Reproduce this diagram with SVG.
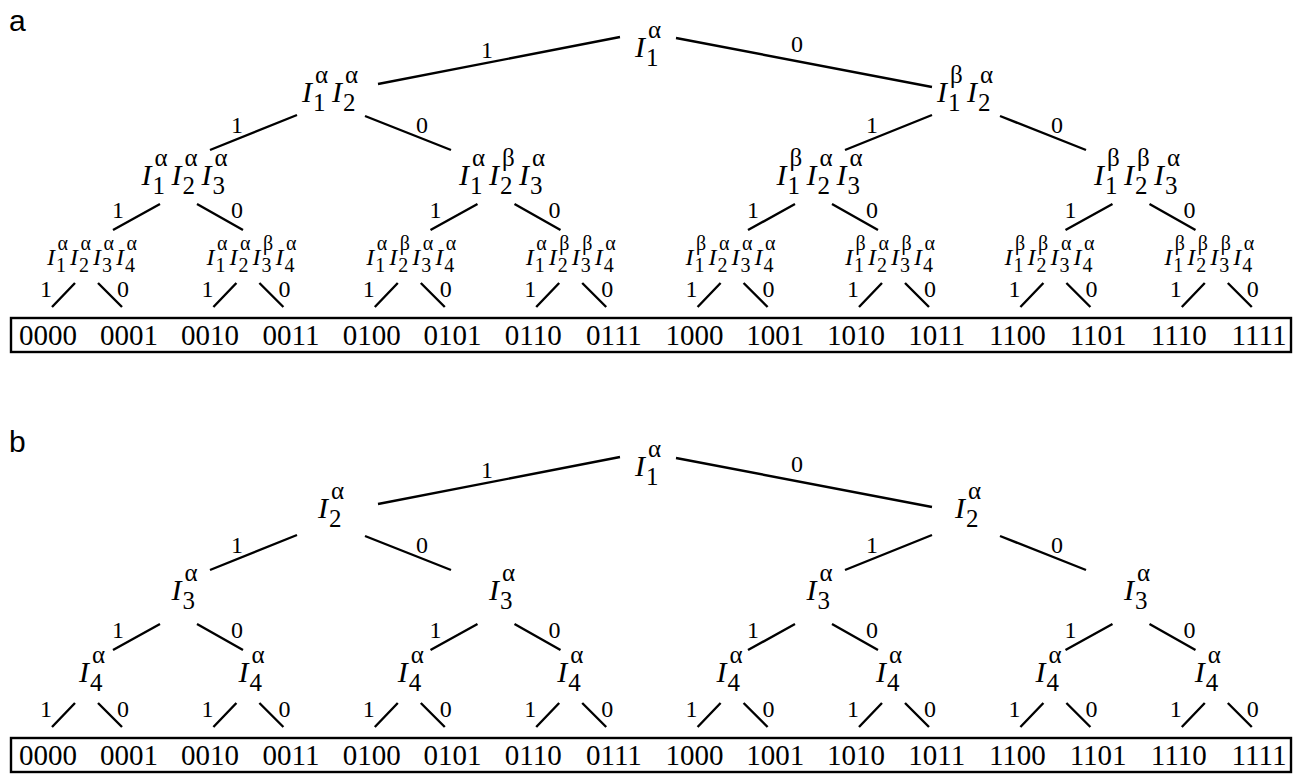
<svg xmlns="http://www.w3.org/2000/svg" width="1296" height="774" viewBox="0 0 1296 774">
<style>
  .bg{fill:#fff}
  text{font-family:"Liberation Serif","Times New Roman",serif;fill:#000}
  .I{font-style:italic;font-size:30px}
  .s{font-size:25px}
  .I4{font-style:italic;font-size:24px}
  .s4{font-size:20px}
  .lab{font-size:24px;text-anchor:middle}
  .leaf{font-size:29px;text-anchor:middle}
  .pan{font-family:"Liberation Sans",Arial,sans-serif;font-size:30px}
  .edge{stroke:#000;stroke-width:2.4;fill:none;stroke-linecap:butt}
  .box{stroke:#000;stroke-width:2.4;fill:none}
</style>
<rect class="bg" x="0" y="0" width="1296" height="774"/>

<!-- ===================== panel a ===================== -->
<text class="pan" x="9" y="31">a</text>

<g id="a-edges">
  <path class="edge" d="M378,84 L620,37 M676,38 L932,87"/>
  <path class="edge" d="M210,150 L297,115 M365,116 L451,150 M845,150 L932,115 M1000,116 L1086,150"/>
  <path class="edge" d="M113,230 L160,204 M197,204 L243,230 M430.5,230 L477.5,204 M514.5,204 L560.5,230 M748,230 L795,204 M832,204 L878,230 M1065.5,230 L1112.5,204 M1149.5,204 L1195.5,230"/>
  <path class="edge" d="M52,307 L75,283 M98,283 L122,307 M213.4,307 L236.4,283 M259.4,283 L283.4,307 M374.8,307 L397.8,283 M420.8,283 L444.8,307 M536.2,307 L559.2,283 M582.2,283 L606.2,307 M697.6,307 L720.6,283 M743.6,283 L767.6,307 M859,307 L882,283 M905,283 L929,307 M1020.4,307 L1043.4,283 M1066.4,283 L1090.4,307 M1181.8,307 L1204.8,283 M1227.8,283 L1251.8,307"/>
  <g id="a-edge-labels">
    <text class="lab" x="487" y="58">1</text><text class="lab" x="797" y="52">0</text>
    <text class="lab" x="237" y="133">1</text><text class="lab" x="422" y="133">0</text>
    <text class="lab" x="872" y="133">1</text><text class="lab" x="1057" y="133">0</text>
    <text class="lab" x="118" y="218">1</text><text class="lab" x="237" y="218">0</text>
    <text class="lab" x="435.5" y="218">1</text><text class="lab" x="554.5" y="218">0</text>
    <text class="lab" x="753" y="218">1</text><text class="lab" x="872" y="218">0</text>
    <text class="lab" x="1070.5" y="218">1</text><text class="lab" x="1189.5" y="218">0</text>
    <text class="lab" x="46" y="297">1</text><text class="lab" x="123" y="297">0</text>
    <text class="lab" x="207.4" y="297">1</text><text class="lab" x="284.4" y="297">0</text>
    <text class="lab" x="368.8" y="297">1</text><text class="lab" x="445.8" y="297">0</text>
    <text class="lab" x="530.2" y="297">1</text><text class="lab" x="607.2" y="297">0</text>
    <text class="lab" x="691.6" y="297">1</text><text class="lab" x="768.6" y="297">0</text>
    <text class="lab" x="853" y="297">1</text><text class="lab" x="930" y="297">0</text>
    <text class="lab" x="1014.4" y="297">1</text><text class="lab" x="1091.4" y="297">0</text>
    <text class="lab" x="1175.8" y="297">1</text><text class="lab" x="1252.8" y="297">0</text>
  </g>
</g>

<!-- level 0 -->
<g id="a-n0"><text><tspan class="I" x="635" y="57">I</tspan><tspan class="s" x="646" y="66">1</tspan><tspan class="s" x="648" y="38">α</tspan></text></g>
<!-- level 1 -->
<g id="a-n10"><text><tspan class="I" x="302" y="102">I</tspan><tspan class="s" x="313" y="111">1</tspan><tspan class="s" x="315" y="83">α</tspan><tspan class="I" x="332" y="102">I</tspan><tspan class="s" x="343" y="111">2</tspan><tspan class="s" x="345" y="83">α</tspan></text></g>
<g id="a-n11"><text><tspan class="I" x="937" y="102">I</tspan><tspan class="s" x="948" y="111">1</tspan><tspan class="s" x="950" y="83">β</tspan><tspan class="I" x="967" y="102">I</tspan><tspan class="s" x="978" y="111">2</tspan><tspan class="s" x="980" y="83">α</tspan></text></g>
<!-- level 2 -->
<g id="a-n20"><text><tspan class="I" x="141.5" y="185">I</tspan><tspan class="s" x="152.5" y="194">1</tspan><tspan class="s" x="154.5" y="166">α</tspan><tspan class="I" x="171.5" y="185">I</tspan><tspan class="s" x="182.5" y="194">2</tspan><tspan class="s" x="184.5" y="166">α</tspan><tspan class="I" x="201.5" y="185">I</tspan><tspan class="s" x="212.5" y="194">3</tspan><tspan class="s" x="214.5" y="166">α</tspan></text></g>
<g id="a-n21"><text><tspan class="I" x="459" y="185">I</tspan><tspan class="s" x="470" y="194">1</tspan><tspan class="s" x="472" y="166">α</tspan><tspan class="I" x="489" y="185">I</tspan><tspan class="s" x="500" y="194">2</tspan><tspan class="s" x="502" y="166">β</tspan><tspan class="I" x="519" y="185">I</tspan><tspan class="s" x="530" y="194">3</tspan><tspan class="s" x="532" y="166">α</tspan></text></g>
<g id="a-n22"><text><tspan class="I" x="776.5" y="185">I</tspan><tspan class="s" x="787.5" y="194">1</tspan><tspan class="s" x="789.5" y="166">β</tspan><tspan class="I" x="806.5" y="185">I</tspan><tspan class="s" x="817.5" y="194">2</tspan><tspan class="s" x="819.5" y="166">α</tspan><tspan class="I" x="836.5" y="185">I</tspan><tspan class="s" x="847.5" y="194">3</tspan><tspan class="s" x="849.5" y="166">α</tspan></text></g>
<g id="a-n23"><text><tspan class="I" x="1094" y="185">I</tspan><tspan class="s" x="1105" y="194">1</tspan><tspan class="s" x="1107" y="166">β</tspan><tspan class="I" x="1124" y="185">I</tspan><tspan class="s" x="1135" y="194">2</tspan><tspan class="s" x="1137" y="166">β</tspan><tspan class="I" x="1154" y="185">I</tspan><tspan class="s" x="1165" y="194">3</tspan><tspan class="s" x="1167" y="166">α</tspan></text></g>
<!-- level 3 -->
<g id="a-n30"><text><tspan class="I4" x="47" y="265">I</tspan><tspan class="s4" x="56" y="272">1</tspan><tspan class="s4" x="57.5" y="250">α</tspan><tspan class="I4" x="70" y="265">I</tspan><tspan class="s4" x="79" y="272">2</tspan><tspan class="s4" x="80.5" y="250">α</tspan><tspan class="I4" x="93" y="265">I</tspan><tspan class="s4" x="102" y="272">3</tspan><tspan class="s4" x="103.5" y="250">α</tspan><tspan class="I4" x="116" y="265">I</tspan><tspan class="s4" x="125" y="272">4</tspan><tspan class="s4" x="126.5" y="250">α</tspan></text></g>
<g id="a-n31"><text><tspan class="I4" x="206.6" y="265">I</tspan><tspan class="s4" x="215.6" y="272">1</tspan><tspan class="s4" x="217.1" y="250">α</tspan><tspan class="I4" x="229.6" y="265">I</tspan><tspan class="s4" x="238.6" y="272">2</tspan><tspan class="s4" x="240.1" y="250">α</tspan><tspan class="I4" x="252.6" y="265">I</tspan><tspan class="s4" x="261.6" y="272">3</tspan><tspan class="s4" x="263.1" y="250">β</tspan><tspan class="I4" x="275.6" y="265">I</tspan><tspan class="s4" x="284.6" y="272">4</tspan><tspan class="s4" x="286.1" y="250">α</tspan></text></g>
<g id="a-n32"><text><tspan class="I4" x="366.2" y="265">I</tspan><tspan class="s4" x="375.2" y="272">1</tspan><tspan class="s4" x="376.7" y="250">α</tspan><tspan class="I4" x="389.2" y="265">I</tspan><tspan class="s4" x="398.2" y="272">2</tspan><tspan class="s4" x="399.7" y="250">β</tspan><tspan class="I4" x="412.2" y="265">I</tspan><tspan class="s4" x="421.2" y="272">3</tspan><tspan class="s4" x="422.7" y="250">α</tspan><tspan class="I4" x="435.2" y="265">I</tspan><tspan class="s4" x="444.2" y="272">4</tspan><tspan class="s4" x="445.7" y="250">α</tspan></text></g>
<g id="a-n33"><text><tspan class="I4" x="525.8" y="265">I</tspan><tspan class="s4" x="534.8" y="272">1</tspan><tspan class="s4" x="536.3" y="250">α</tspan><tspan class="I4" x="548.8" y="265">I</tspan><tspan class="s4" x="557.8" y="272">2</tspan><tspan class="s4" x="559.3" y="250">β</tspan><tspan class="I4" x="571.8" y="265">I</tspan><tspan class="s4" x="580.8" y="272">3</tspan><tspan class="s4" x="582.3" y="250">β</tspan><tspan class="I4" x="594.8" y="265">I</tspan><tspan class="s4" x="603.8" y="272">4</tspan><tspan class="s4" x="605.3" y="250">α</tspan></text></g>
<g id="a-n34"><text><tspan class="I4" x="685.4" y="265">I</tspan><tspan class="s4" x="694.4" y="272">1</tspan><tspan class="s4" x="695.9" y="250">β</tspan><tspan class="I4" x="708.4" y="265">I</tspan><tspan class="s4" x="717.4" y="272">2</tspan><tspan class="s4" x="718.9" y="250">α</tspan><tspan class="I4" x="731.4" y="265">I</tspan><tspan class="s4" x="740.4" y="272">3</tspan><tspan class="s4" x="741.9" y="250">α</tspan><tspan class="I4" x="754.4" y="265">I</tspan><tspan class="s4" x="763.4" y="272">4</tspan><tspan class="s4" x="764.9" y="250">α</tspan></text></g>
<g id="a-n35"><text><tspan class="I4" x="845" y="265">I</tspan><tspan class="s4" x="854" y="272">1</tspan><tspan class="s4" x="855.5" y="250">β</tspan><tspan class="I4" x="868" y="265">I</tspan><tspan class="s4" x="877" y="272">2</tspan><tspan class="s4" x="878.5" y="250">α</tspan><tspan class="I4" x="891" y="265">I</tspan><tspan class="s4" x="900" y="272">3</tspan><tspan class="s4" x="901.5" y="250">β</tspan><tspan class="I4" x="914" y="265">I</tspan><tspan class="s4" x="923" y="272">4</tspan><tspan class="s4" x="924.5" y="250">α</tspan></text></g>
<g id="a-n36"><text><tspan class="I4" x="1004.6" y="265">I</tspan><tspan class="s4" x="1013.6" y="272">1</tspan><tspan class="s4" x="1015.1" y="250">β</tspan><tspan class="I4" x="1027.6" y="265">I</tspan><tspan class="s4" x="1036.6" y="272">2</tspan><tspan class="s4" x="1038.1" y="250">β</tspan><tspan class="I4" x="1050.6" y="265">I</tspan><tspan class="s4" x="1059.6" y="272">3</tspan><tspan class="s4" x="1061.1" y="250">α</tspan><tspan class="I4" x="1073.6" y="265">I</tspan><tspan class="s4" x="1082.6" y="272">4</tspan><tspan class="s4" x="1084.1" y="250">α</tspan></text></g>
<g id="a-n37"><text><tspan class="I4" x="1164.2" y="265">I</tspan><tspan class="s4" x="1173.2" y="272">1</tspan><tspan class="s4" x="1174.7" y="250">β</tspan><tspan class="I4" x="1187.2" y="265">I</tspan><tspan class="s4" x="1196.2" y="272">2</tspan><tspan class="s4" x="1197.7" y="250">β</tspan><tspan class="I4" x="1210.2" y="265">I</tspan><tspan class="s4" x="1219.2" y="272">3</tspan><tspan class="s4" x="1220.7" y="250">β</tspan><tspan class="I4" x="1233.2" y="265">I</tspan><tspan class="s4" x="1242.2" y="272">4</tspan><tspan class="s4" x="1243.7" y="250">α</tspan></text></g>
<!-- leaves -->
<g id="a-leaves">
  <rect class="box" x="11" y="318" width="1280" height="34"/>
  <text class="leaf" y="345"><tspan x="48">0000</tspan><tspan x="129">0001</tspan><tspan x="210">0010</tspan><tspan x="291">0011</tspan><tspan x="371.8">0100</tspan><tspan x="452.5">0101</tspan><tspan x="533.2">0110</tspan><tspan x="613.9">0111</tspan><tspan x="694.6">1000</tspan><tspan x="775.3">1001</tspan><tspan x="856">1010</tspan><tspan x="936.7">1011</tspan><tspan x="1017.4">1100</tspan><tspan x="1098.1">1101</tspan><tspan x="1178.8">1110</tspan><tspan x="1259">1111</tspan></text>
</g>

<!-- ===================== panel b ===================== -->
<text class="pan" x="9" y="452">b</text>

<g id="b-edges" transform="translate(0,420)">
  <path class="edge" d="M378,84 L620,37 M676,38 L932,87"/>
  <path class="edge" d="M210,150 L297,115 M365,116 L451,150 M845,150 L932,115 M1000,116 L1086,150"/>
  <path class="edge" d="M113,230 L160,204 M197,204 L243,230 M430.5,230 L477.5,204 M514.5,204 L560.5,230 M748,230 L795,204 M832,204 L878,230 M1065.5,230 L1112.5,204 M1149.5,204 L1195.5,230"/>
  <path class="edge" d="M52,307 L75,283 M98,283 L122,307 M213.4,307 L236.4,283 M259.4,283 L283.4,307 M374.8,307 L397.8,283 M420.8,283 L444.8,307 M536.2,307 L559.2,283 M582.2,283 L606.2,307 M697.6,307 L720.6,283 M743.6,283 L767.6,307 M859,307 L882,283 M905,283 L929,307 M1020.4,307 L1043.4,283 M1066.4,283 L1090.4,307 M1181.8,307 L1204.8,283 M1227.8,283 L1251.8,307"/>
  <g id="b-edge-labels">
    <text class="lab" x="487" y="58">1</text><text class="lab" x="797" y="52">0</text>
    <text class="lab" x="237" y="133">1</text><text class="lab" x="422" y="133">0</text>
    <text class="lab" x="872" y="133">1</text><text class="lab" x="1057" y="133">0</text>
    <text class="lab" x="118" y="218">1</text><text class="lab" x="237" y="218">0</text>
    <text class="lab" x="435.5" y="218">1</text><text class="lab" x="554.5" y="218">0</text>
    <text class="lab" x="753" y="218">1</text><text class="lab" x="872" y="218">0</text>
    <text class="lab" x="1070.5" y="218">1</text><text class="lab" x="1189.5" y="218">0</text>
    <text class="lab" x="46" y="297">1</text><text class="lab" x="123" y="297">0</text>
    <text class="lab" x="207.4" y="297">1</text><text class="lab" x="284.4" y="297">0</text>
    <text class="lab" x="368.8" y="297">1</text><text class="lab" x="445.8" y="297">0</text>
    <text class="lab" x="530.2" y="297">1</text><text class="lab" x="607.2" y="297">0</text>
    <text class="lab" x="691.6" y="297">1</text><text class="lab" x="768.6" y="297">0</text>
    <text class="lab" x="853" y="297">1</text><text class="lab" x="930" y="297">0</text>
    <text class="lab" x="1014.4" y="297">1</text><text class="lab" x="1091.4" y="297">0</text>
    <text class="lab" x="1175.8" y="297">1</text><text class="lab" x="1252.8" y="297">0</text>
  </g>
</g>

<g id="b-n0"><text><tspan class="I" x="635" y="476">I</tspan><tspan class="s" x="646" y="485">1</tspan><tspan class="s" x="648" y="457">α</tspan></text></g>
<g id="b-n10"><text><tspan class="I" x="318" y="518">I</tspan><tspan class="s" x="329" y="527">2</tspan><tspan class="s" x="331" y="499">α</tspan></text></g>
<g id="b-n11"><text><tspan class="I" x="955" y="518">I</tspan><tspan class="s" x="966" y="527">2</tspan><tspan class="s" x="968" y="499">α</tspan></text></g>
<g id="b-n20"><text><tspan class="I" x="171.5" y="600">I</tspan><tspan class="s" x="182.5" y="609">3</tspan><tspan class="s" x="184.5" y="581">α</tspan></text></g>
<g id="b-n21"><text><tspan class="I" x="489" y="600">I</tspan><tspan class="s" x="500" y="609">3</tspan><tspan class="s" x="502" y="581">α</tspan></text></g>
<g id="b-n22"><text><tspan class="I" x="806.5" y="600">I</tspan><tspan class="s" x="817.5" y="609">3</tspan><tspan class="s" x="819.5" y="581">α</tspan></text></g>
<g id="b-n23"><text><tspan class="I" x="1124" y="600">I</tspan><tspan class="s" x="1135" y="609">3</tspan><tspan class="s" x="1137" y="581">α</tspan></text></g>
<g id="b-n30"><text><tspan class="I" x="79" y="682">I</tspan><tspan class="s" x="90" y="691">4</tspan><tspan class="s" x="92" y="663">α</tspan></text></g>
<g id="b-n31"><text><tspan class="I" x="238.4" y="682">I</tspan><tspan class="s" x="249.4" y="691">4</tspan><tspan class="s" x="251.4" y="663">α</tspan></text></g>
<g id="b-n32"><text><tspan class="I" x="397.8" y="682">I</tspan><tspan class="s" x="408.8" y="691">4</tspan><tspan class="s" x="410.8" y="663">α</tspan></text></g>
<g id="b-n33"><text><tspan class="I" x="557.2" y="682">I</tspan><tspan class="s" x="568.2" y="691">4</tspan><tspan class="s" x="570.2" y="663">α</tspan></text></g>
<g id="b-n34"><text><tspan class="I" x="716.6" y="682">I</tspan><tspan class="s" x="727.6" y="691">4</tspan><tspan class="s" x="729.6" y="663">α</tspan></text></g>
<g id="b-n35"><text><tspan class="I" x="876" y="682">I</tspan><tspan class="s" x="887" y="691">4</tspan><tspan class="s" x="889" y="663">α</tspan></text></g>
<g id="b-n36"><text><tspan class="I" x="1035.4" y="682">I</tspan><tspan class="s" x="1046.4" y="691">4</tspan><tspan class="s" x="1048.4" y="663">α</tspan></text></g>
<g id="b-n37"><text><tspan class="I" x="1194.8" y="682">I</tspan><tspan class="s" x="1205.8" y="691">4</tspan><tspan class="s" x="1207.8" y="663">α</tspan></text></g>

<g id="b-leaves" transform="translate(0,420)">
  <rect class="box" x="11" y="318" width="1280" height="34"/>
  <text class="leaf" y="345"><tspan x="48">0000</tspan><tspan x="129">0001</tspan><tspan x="210">0010</tspan><tspan x="291">0011</tspan><tspan x="371.8">0100</tspan><tspan x="452.5">0101</tspan><tspan x="533.2">0110</tspan><tspan x="613.9">0111</tspan><tspan x="694.6">1000</tspan><tspan x="775.3">1001</tspan><tspan x="856">1010</tspan><tspan x="936.7">1011</tspan><tspan x="1017.4">1100</tspan><tspan x="1098.1">1101</tspan><tspan x="1178.8">1110</tspan><tspan x="1259">1111</tspan></text>
</g>
</svg>
